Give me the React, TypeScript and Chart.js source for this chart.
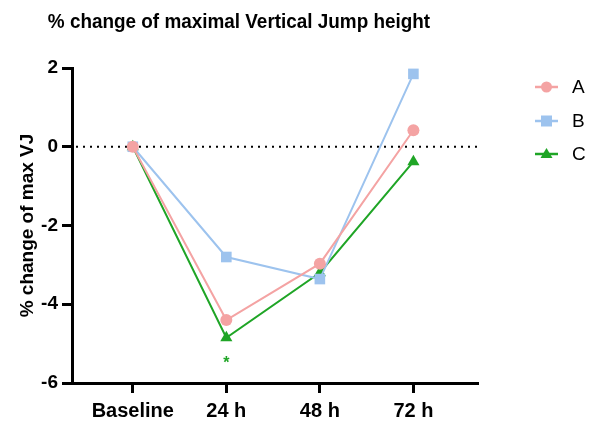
import React, { useEffect, useRef } from "react";
import { Chart, registerables } from "chart.js";

Chart.register(...registerables);

const categories = ["Baseline", "24 h", "48 h", "72 h"];
const seriesNames = ["A", "B", "C"];
const valuesA = [0, -4.4, -2.97, 0.42];
const valuesB = [0, -2.8, -3.36, 1.85];
const valuesC = [0, -4.85, -3.2, -0.38];
const colors = ["#F4A3A3", "#9DC3EE", "#1FA526"];
const pointStyles = ["circle", "rect", "triangle"];
const pointRadii = [6, 7.5, 7];
const yTicks = [-6, -4, -2, 0, 2];
const significance = [{ index: 1, value: -5.5, text: "*" }];

const FONT = "'Liberation Sans', Arial, sans-serif";

export default function App() {
  const ref = useRef<HTMLCanvasElement | null>(null);

  useEffect(() => {
    if (!ref.current) return;
    const series = [valuesA, valuesB, valuesC];

    const overlay = {
      id: "overlay",
      beforeDatasetsDraw(chart: any) {
        const { ctx, chartArea, scales } = chart;
        const y0 = scales.y.getPixelForValue(0);
        ctx.save();
        ctx.strokeStyle = "#000";
        ctx.lineWidth = 2;
        ctx.setLineDash([2, 5]);
        ctx.beginPath();
        ctx.moveTo(chartArea.left + 4, y0);
        ctx.lineTo(chartArea.right, y0);
        ctx.stroke();
        ctx.restore();
      },
      afterDraw(chart: any) {
        const { ctx, scales, chartArea } = chart;
        ctx.save();
        // title (slightly condensed like the original)
        ctx.save();
        ctx.fillStyle = "#000";
        ctx.font = `bold 21px ${FONT}`;
        ctx.textAlign = "center";
        ctx.textBaseline = "alphabetic";
        ctx.translate(231, 20);
        ctx.scale(0.9, 1);
        ctx.fillText("% change of maximal Vertical Jump height", 0, 0);
        ctx.restore();
        // significance marks
        ctx.fillStyle = colors[2];
        ctx.font = `bold 16px ${FONT}`;
        ctx.textAlign = "center";
        ctx.textBaseline = "middle";
        significance.forEach((s) => {
          ctx.fillText(s.text, scales.x.getPixelForValue(s.index), scales.y.getPixelForValue(s.value));
        });
        // legend
        const lx = chartArea.right + 58;
        const ly = [79, 113, 146];
        seriesNames.forEach((name, i) => {
          ctx.strokeStyle = colors[i];
          ctx.lineWidth = 2.5;
          ctx.setLineDash([]);
          ctx.beginPath();
          ctx.moveTo(lx, ly[i]);
          ctx.lineTo(lx + 23, ly[i]);
          ctx.stroke();
          ctx.fillStyle = colors[i];
          const cx = lx + 11.5;
          const cy = ly[i];
          ctx.beginPath();
          if (pointStyles[i] === "circle") {
            ctx.arc(cx, cy, 5.5, 0, Math.PI * 2);
          } else if (pointStyles[i] === "rect") {
            ctx.rect(cx - 5.5, cy - 5.5, 11, 11);
          } else {
            ctx.moveTo(cx, cy - 6);
            ctx.lineTo(cx + 6, cy + 4);
            ctx.lineTo(cx - 6, cy + 4);
            ctx.closePath();
          }
          ctx.fill();
          ctx.fillStyle = "#000";
          ctx.font = `19px ${FONT}`;
          ctx.textAlign = "left";
          ctx.textBaseline = "middle";
          ctx.fillText(name, lx + 37, cy + 1);
        });
        ctx.restore();
      },
    };

    const chart = new Chart(ref.current, {
      type: "line",
      data: {
        datasets: series.map((vals, i) => ({
          label: seriesNames[i],
          data: vals.map((v, j) => ({ x: j, y: v })),
          borderColor: colors[i],
          backgroundColor: colors[i],
          borderWidth: 2,
          pointStyle: pointStyles[i] as any,
          pointRadius: pointRadii[i],
          pointBorderWidth: 0,
          tension: 0,
        })),
      },
      options: {
        responsive: false,
        animation: false,
        layout: { padding: { top: 60, right: 114, bottom: 0, left: 0 } },
        plugins: {
          legend: { display: false },
          title: { display: false },
          tooltip: { enabled: false },
        },
        scales: {
          x: {
            type: "linear",
            min: -0.65,
            max: 3.68,
            afterBuildTicks: (scale: any) => {
              scale.ticks = categories.map((_, i) => ({ value: i }));
            },
            afterFit: (scale: any) => {
              scale.height = 34;
            },
            ticks: {
              callback: (v: any) => categories[v] ?? "",
              color: "#000",
              font: { family: FONT, size: 20, weight: "bold" },
              padding: 6,
              maxRotation: 0,
              autoSkip: false,
            },
            grid: { drawOnChartArea: false, drawTicks: true, tickLength: 10, lineWidth: 3, color: "#000" },
            border: { display: true, width: 3, color: "#000" },
          },
          y: {
            min: -6,
            max: 2,
            afterBuildTicks: (scale: any) => {
              scale.ticks = yTicks.map((v) => ({ value: v }));
            },
            afterFit: (scale: any) => {
              scale.width = 64;
            },
            ticks: {
              color: "#000",
              font: { family: FONT, size: 19, weight: "bold" },
              padding: 4,
            },
            title: {
              display: true,
              text: "% change of max VJ",
              color: "#000",
              font: { family: FONT, size: 19, weight: "bold" },
              padding: { top: 8, bottom: 0 },
            },
            grid: { drawOnChartArea: false, drawTicks: true, tickLength: 10, lineWidth: 3, color: "#000" },
            border: { display: true, width: 3, color: "#000" },
          },
        },
      },
      plugins: [overlay],
    });
    return () => chart.destroy();
  }, []);

  return (
    <div style={{ width: 583, height: 409, background: "#fff" }}>
      <canvas ref={ref} width={583} height={409} />
    </div>
  );
}
